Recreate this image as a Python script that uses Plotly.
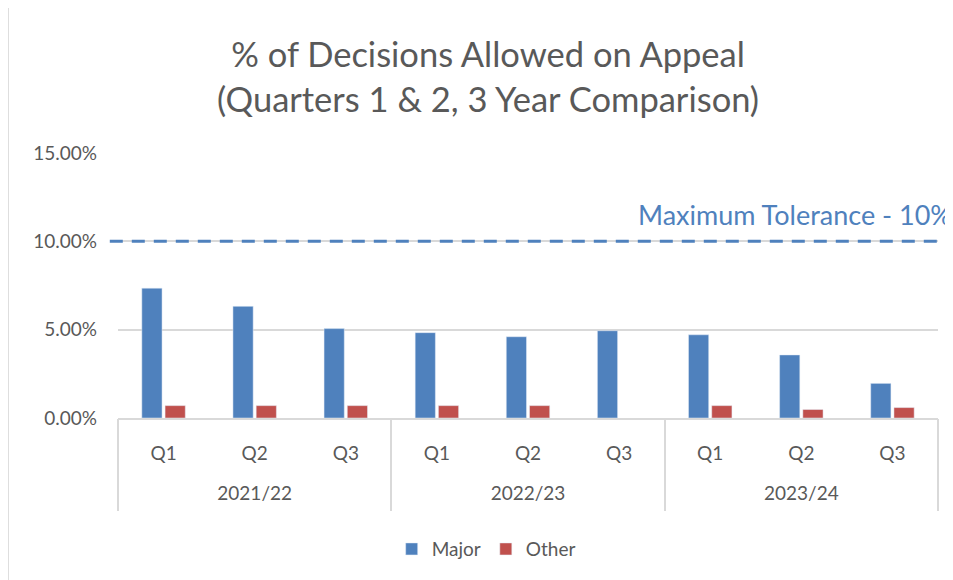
import plotly.graph_objects as go

years = ["2021/22", "2022/23", "2023/24"]
quarters = ["Q1", "Q2", "Q3", "Q1", "Q2", "Q3", "Q1", "Q2", "Q3"]
major = [0.0735, 0.0632, 0.0506, 0.0483, 0.0460, 0.0494, 0.0471, 0.0357, 0.0196]
other = [0.0070, 0.0070, 0.0070, 0.0070, 0.0070, None, 0.0070, 0.0048, 0.0059]
tolerance = 0.10
tolerance_label = "Maximum Tolerance - 10%"

FONT = "Lato"
TXT = "#595959"
GRID = "#d9d9d9"

pos = list(range(len(quarters)))
n_per_year = len(quarters) // len(years)
year_pos = [i * n_per_year + (n_per_year - 1) / 2 for i in range(len(years))]
bounds = [i * n_per_year - 0.5 for i in range(len(years) + 1)]
xr = [-0.5, len(quarters) - 0.5]

fig = go.Figure()
fig.add_trace(go.Bar(x=pos, y=major, name="Major", marker_color="#4f81bd"))
fig.add_trace(go.Bar(x=pos, y=other, name="Other", marker_color="#c0504d"))
# carrier traces so the year-label axis and the divider axis are drawn
fig.add_trace(go.Scatter(x=year_pos, y=[None] * len(year_pos), xaxis="x2",
                         mode="markers", showlegend=False, hoverinfo="skip"))
fig.add_trace(go.Scatter(x=bounds, y=[None] * len(bounds), xaxis="x3",
                         mode="markers", showlegend=False, hoverinfo="skip"))

fig.add_shape(type="line", xref="paper", yref="y", x0=-0.01, x1=1.0,
              y0=tolerance, y1=tolerance,
              line=dict(color="#4f81bd", width=3, dash="13px,9px"))
fig.add_annotation(xref="paper", yref="y", x=1.019, y=tolerance,
                   text=tolerance_label, showarrow=False,
                   xanchor="right", yanchor="bottom", yshift=8,
                   font=dict(family=FONT, size=27, color="#4f81bd"))

fig.update_layout(
    width=945, height=572,
    margin=dict(l=110, r=15, t=145, b=158),
    paper_bgcolor="white", plot_bgcolor="white",
    title=dict(text="% of Decisions Allowed on Appeal<br>(Quarters 1 & 2, 3 Year Comparison)",
               x=0.508, xanchor="center", y=0.897, yanchor="top",
               font=dict(family=FONT, size=34.5, color=TXT)),
    font=dict(family=FONT, size=19, color=TXT),
    barmode="group", bargap=0.49, bargroupgap=0.13,
    showlegend=True,
    legend=dict(orientation="h", x=0.449, xanchor="center", y=-0.423, yanchor="top",
                font=dict(family=FONT, size=19, color=TXT)),
    xaxis=dict(range=xr, tickvals=pos, ticktext=quarters,
               showline=True, linecolor=GRID, linewidth=2, showgrid=False,
               zeroline=False, ticks="", ticklabelstandoff=17,
               tickfont=dict(family=FONT, size=19, color=TXT)),
    xaxis2=dict(range=xr, overlaying="x", anchor="y", side="bottom",
                tickvals=year_pos, ticktext=years, showline=False, showgrid=False,
                zeroline=False, ticks="", ticklabelstandoff=62,
                tickfont=dict(family=FONT, size=19, color=TXT)),
    xaxis3=dict(range=xr, overlaying="x", anchor="y", side="bottom",
                tickvals=bounds, showticklabels=False, showline=False, showgrid=False,
                zeroline=False, ticks="outside", ticklen=92, tickwidth=1.5,
                tickcolor=GRID),
    yaxis=dict(range=[0, 0.15], dtick=0.05, tickformat=".2%",
               showgrid=True, gridcolor=GRID, gridwidth=2,
               zeroline=False, showline=False, ticklabelstandoff=20,
               tickfont=dict(family=FONT, size=19, color=TXT), ticklen=0),
)

fig.add_shape(type="line", xref="paper", yref="paper", x0=-0.134, x1=-0.134,
              y0=-0.7, y1=1.7, line=dict(color=GRID, width=1.5))

fig.write_html("out.html")
